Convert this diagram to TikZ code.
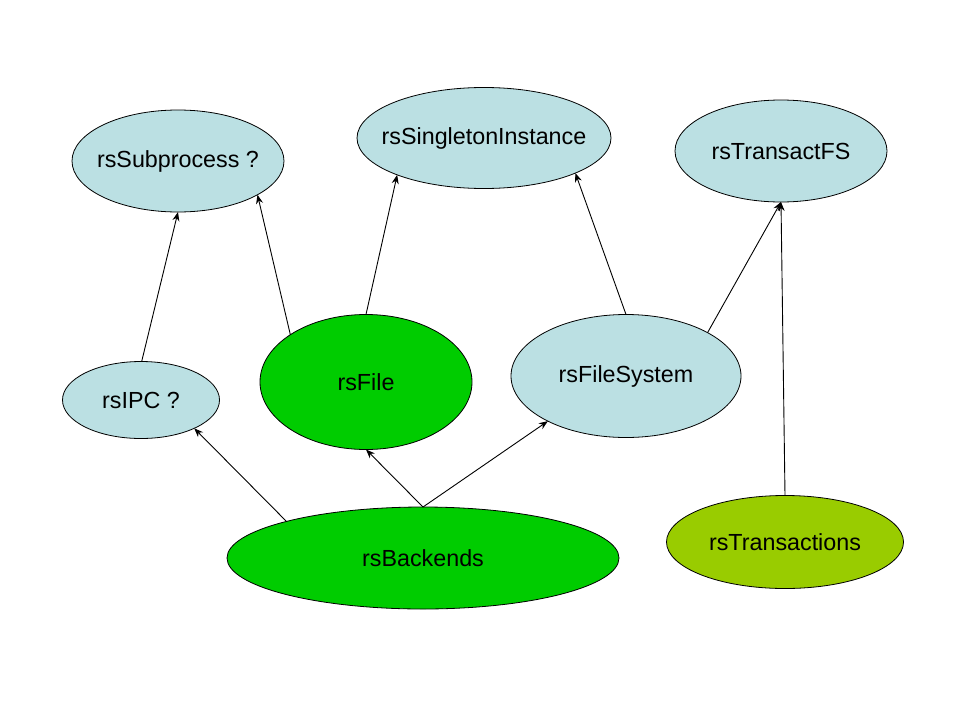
\documentclass[tikz,border=0pt]{standalone}
\usepackage{fontspec}
\setmainfont{Liberation Sans}
\usetikzlibrary{shapes.geometric,arrows.meta}
\definecolor{lblue}{HTML}{BBE0E3}
\definecolor{dgreen}{HTML}{00CC00}
\definecolor{olive}{HTML}{99CC00}
\newcommand{\ztxt}[1]{\makebox[0pt]{#1}}
\tikzset{
  ell/.style={ellipse, draw=black, line width=0.8pt, inner sep=0pt, outer sep=0pt,
    font=\fontsize{23.3}{27}\selectfont},
  blue/.style={ell, fill=lblue},
  grn/.style={ell, fill=dgreen},
  olv/.style={ell, fill=olive},
  conn/.style={line width=0.9pt, -{Stealth[length=9pt,width=7pt]}}
}
\begin{document}
\begin{tikzpicture}[x=1pt,y=-1pt]
\useasboundingbox (0,0) rectangle (960,720);
\node[blue, minimum width=212pt, minimum height=102pt] (sub) at (178,161) {\ztxt{rsSubprocess ?}};
\node[blue, minimum width=254pt, minimum height=101pt] (sing) at (484,138) {\ztxt{rsSingletonInstance}};
\node[blue, minimum width=212pt, minimum height=102pt] (tfs) at (781,151) {\ztxt{rsTransactFS}};
\node[blue, minimum width=157pt, minimum height=77pt] (ipc) at (141,400) {\ztxt{rsIPC ?}};
\node[grn, minimum width=212pt, minimum height=135pt] (file) at (366,382) {\ztxt{rsFile}};
\node[blue, minimum width=230pt, minimum height=123pt] (fs) at (626,376) {\ztxt{rsFileSystem}};
\node[grn, minimum width=392pt, minimum height=102pt] (back) at (423,558) {\ztxt{rsBackends}};
\node[olv, minimum width=237pt, minimum height=93pt] (trans) at (785,542) {\ztxt{rsTransactions}};

\draw[conn] (ipc.89) -- (sub.-90);
\draw[conn] (file.148) -- (sub.-23);
\draw[conn] (file.90) -- (sing.-157);
\draw[conn] (fs.90) -- (sing.-21);
\draw[conn] (fs.28) -- (tfs.-90);
\draw[conn] (trans.90) -- (tfs.-90);
\draw[conn] (back.165) -- (ipc.-28);
\draw[conn] (back.90) -- (file.-90);
\draw[conn] (back.90) -- (fs.-150);
\end{tikzpicture}
\end{document}
